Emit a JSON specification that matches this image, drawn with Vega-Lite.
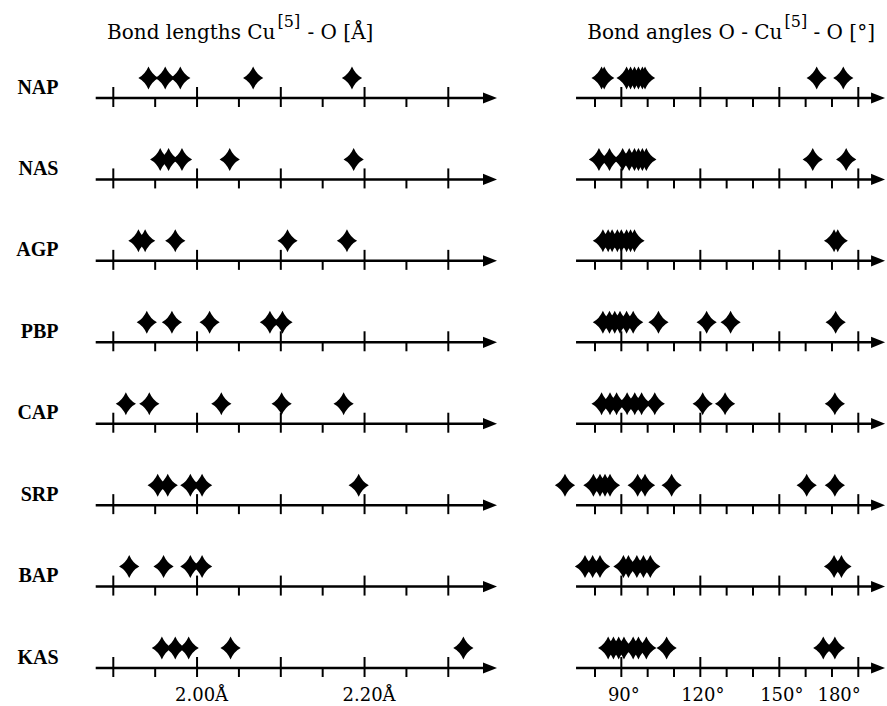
{
  "$schema": "https://vega.github.io/schema/vega-lite/v6.json",
  "width": 807,
  "height": 570,
  "autosize": {"type": "none"},
  "padding": {"left": 80, "top": 98, "right": 0, "bottom": 38},
  "background": "white",
  "config": {
    "view": {"stroke": null},
    "axis": {"grid": false, "domain": false, "ticks": false}
  },
  "datasets": {
    "rows": [
      {"row": "NAP", "lmaj": [1.9, 2.0, 2.1, 2.2, 2.3], "lmin": [1.95, 2.05, 2.15, 2.25], "rmaj": [90, 120, 150, 180], "rmin": [80, 100, 110, 130, 140, 160, 170]},
      {"row": "NAS", "lmaj": [1.9, 2.0, 2.1, 2.2, 2.3], "lmin": [1.95, 2.05, 2.15, 2.25], "rmaj": [90, 120, 150, 180], "rmin": [80, 100, 110, 130, 140, 160, 170]},
      {"row": "AGP", "lmaj": [1.9, 2.0, 2.1, 2.2, 2.3], "lmin": [1.95, 2.05, 2.15, 2.25], "rmaj": [90, 120, 150, 180], "rmin": [80, 100, 110, 130, 140, 160, 170]},
      {"row": "PBP", "lmaj": [1.9, 2.0, 2.1, 2.2, 2.3], "lmin": [1.95, 2.05, 2.15, 2.25], "rmaj": [90, 120, 150, 180], "rmin": [80, 100, 110, 130, 140, 160, 170]},
      {"row": "CAP", "lmaj": [1.9, 2.0, 2.1, 2.2, 2.3], "lmin": [1.95, 2.05, 2.15, 2.25], "rmaj": [90, 120, 150, 180], "rmin": [80, 100, 110, 130, 140, 160, 170]},
      {"row": "SRP", "lmaj": [1.9, 2.0, 2.1, 2.2, 2.3], "lmin": [1.95, 2.05, 2.15, 2.25], "rmaj": [90, 120, 150, 180], "rmin": [80, 100, 110, 130, 140, 160, 170]},
      {"row": "BAP", "lmaj": [1.9, 2.0, 2.1, 2.2, 2.3], "lmin": [1.95, 2.05, 2.15, 2.25], "rmaj": [90, 120, 150, 180], "rmin": [80, 100, 110, 130, 140, 160, 170]},
      {"row": "KAS", "lmaj": [1.9, 2.0, 2.1, 2.2, 2.3], "lmin": [1.95, 2.05, 2.15, 2.25], "rmaj": [90, 120, 150, 180], "rmin": [80, 100, 110, 130, 140, 160, 170]}
    ],
    "bonds": [
      {"row": "NAP", "length": 1.942}, {"row": "NAP", "length": 1.962}, {"row": "NAP", "length": 1.980}, {"row": "NAP", "length": 2.067}, {"row": "NAP", "length": 2.185},
      {"row": "NAS", "length": 1.956}, {"row": "NAS", "length": 1.966}, {"row": "NAS", "length": 1.982}, {"row": "NAS", "length": 2.039}, {"row": "NAS", "length": 2.187},
      {"row": "AGP", "length": 1.930}, {"row": "AGP", "length": 1.938}, {"row": "AGP", "length": 1.974}, {"row": "AGP", "length": 2.108}, {"row": "AGP", "length": 2.179},
      {"row": "PBP", "length": 1.940}, {"row": "PBP", "length": 1.970}, {"row": "PBP", "length": 2.015}, {"row": "PBP", "length": 2.087}, {"row": "PBP", "length": 2.102},
      {"row": "CAP", "length": 1.915}, {"row": "CAP", "length": 1.943}, {"row": "CAP", "length": 2.029}, {"row": "CAP", "length": 2.101}, {"row": "CAP", "length": 2.175},
      {"row": "SRP", "length": 1.953}, {"row": "SRP", "length": 1.965}, {"row": "SRP", "length": 1.992}, {"row": "SRP", "length": 2.006}, {"row": "SRP", "length": 2.193},
      {"row": "BAP", "length": 1.919}, {"row": "BAP", "length": 1.960}, {"row": "BAP", "length": 1.992}, {"row": "BAP", "length": 2.006},
      {"row": "KAS", "length": 1.958}, {"row": "KAS", "length": 1.974}, {"row": "KAS", "length": 1.990}, {"row": "KAS", "length": 2.040}, {"row": "KAS", "length": 2.318}
    ],
    "angles": [
      {"row": "NAP", "angle": 82.5}, {"row": "NAP", "angle": 83.5}, {"row": "NAP", "angle": 92}, {"row": "NAP", "angle": 93.5}, {"row": "NAP", "angle": 95}, {"row": "NAP", "angle": 96.5}, {"row": "NAP", "angle": 98}, {"row": "NAP", "angle": 99}, {"row": "NAP", "angle": 164.2}, {"row": "NAP", "angle": 174.3},
      {"row": "NAS", "angle": 81.5}, {"row": "NAS", "angle": 85.5}, {"row": "NAS", "angle": 90.5}, {"row": "NAS", "angle": 93}, {"row": "NAS", "angle": 95}, {"row": "NAS", "angle": 96.5}, {"row": "NAS", "angle": 98}, {"row": "NAS", "angle": 99.5}, {"row": "NAS", "angle": 162.7}, {"row": "NAS", "angle": 175.4},
      {"row": "AGP", "angle": 83}, {"row": "AGP", "angle": 85}, {"row": "AGP", "angle": 86.5}, {"row": "AGP", "angle": 88.5}, {"row": "AGP", "angle": 90}, {"row": "AGP", "angle": 92}, {"row": "AGP", "angle": 93.5}, {"row": "AGP", "angle": 95}, {"row": "AGP", "angle": 170.8}, {"row": "AGP", "angle": 172.2},
      {"row": "PBP", "angle": 83}, {"row": "PBP", "angle": 85.5}, {"row": "PBP", "angle": 87.5}, {"row": "PBP", "angle": 89.5}, {"row": "PBP", "angle": 92}, {"row": "PBP", "angle": 94.5}, {"row": "PBP", "angle": 104.1}, {"row": "PBP", "angle": 122.4}, {"row": "PBP", "angle": 131.5}, {"row": "PBP", "angle": 171.4},
      {"row": "CAP", "angle": 82.5}, {"row": "CAP", "angle": 85.7}, {"row": "CAP", "angle": 88.2}, {"row": "CAP", "angle": 92.2}, {"row": "CAP", "angle": 95.1}, {"row": "CAP", "angle": 97.7}, {"row": "CAP", "angle": 102.7}, {"row": "CAP", "angle": 120.9}, {"row": "CAP", "angle": 129.4}, {"row": "CAP", "angle": 171.1},
      {"row": "SRP", "angle": 68.6}, {"row": "SRP", "angle": 79.4}, {"row": "SRP", "angle": 81.9}, {"row": "SRP", "angle": 83.8}, {"row": "SRP", "angle": 85.7}, {"row": "SRP", "angle": 96.2}, {"row": "SRP", "angle": 99}, {"row": "SRP", "angle": 109.1}, {"row": "SRP", "angle": 160.4}, {"row": "SRP", "angle": 171.1},
      {"row": "BAP", "angle": 76.2}, {"row": "BAP", "angle": 79.1}, {"row": "BAP", "angle": 81.9}, {"row": "BAP", "angle": 90.8}, {"row": "BAP", "angle": 92.7}, {"row": "BAP", "angle": 95.9}, {"row": "BAP", "angle": 98.4}, {"row": "BAP", "angle": 101}, {"row": "BAP", "angle": 170.8}, {"row": "BAP", "angle": 173.6},
      {"row": "KAS", "angle": 85}, {"row": "KAS", "angle": 87}, {"row": "KAS", "angle": 89}, {"row": "KAS", "angle": 91}, {"row": "KAS", "angle": 94.5}, {"row": "KAS", "angle": 96.5}, {"row": "KAS", "angle": 99.5}, {"row": "KAS", "angle": 107.2}, {"row": "KAS", "angle": 166.7}, {"row": "KAS", "angle": 171.1}
    ]
  },
  "encoding": {
    "y": {
      "field": "row",
      "type": "nominal",
      "scale": {"type": "point", "domain": ["NAP", "NAS", "AGP", "PBP", "CAP", "SRP", "BAP", "KAS"], "padding": 0},
      "axis": {
        "title": null,
        "domain": false,
        "ticks": false,
        "labelFont": "Liberation Serif",
        "labelFontWeight": "bold",
        "labelFontSize": 20,
        "labelColor": "black",
        "labelPadding": 22,
        "labelOffset": -5,
        "labelBaseline": "alphabetic"
      }
    }
  },
  "resolve": {"scale": {"x": "independent"}, "axis": {"x": "independent"}},
  "layer": [
    {
      "data": {"name": "bonds"},
      "mark": {"type": "point", "shape": "M0,-1Q0.3,-0.3,0.88,0Q0.3,0.3,0,1Q-0.3,0.3,-0.88,0Q-0.3,-0.3,0,-1Z", "size": 529, "filled": true, "color": "black", "opacity": 1, "strokeWidth": 0, "yOffset": -20},
      "encoding": {
        "x": {
          "field": "length",
          "type": "quantitative",
          "scale": {"domain": [1.9, 2.3], "range": [33.3, 368.3], "nice": false, "zero": false},
          "axis": {
            "orient": "bottom", "values": [2.0, 2.2], "labelExpr": "format(datum.value, '.2f') + 'Å'",
            "labelFont": "DejaVu Serif", "labelFontSize": 18, "labelColor": "black", "labelPadding": 32, "labelBaseline": "alphabetic", "labelOffset": 4,
            "title": "Bond lengths Cu", "titleX": 195, "titleY": -630, "titleAlign": "right", "titleBaseline": "alphabetic", "titleAngle": 0,
            "titleFont": "DejaVu Serif", "titleFontSize": 20, "titleFontWeight": "normal", "titleColor": "black"
          }
        }
      }
    },
    {
      "data": {"name": "rows"},
      "layer": [
        {
          "mark": {"type": "rule", "strokeWidth": 2.5, "color": "black"},
          "encoding": {
            "x": {"datum": 1.879, "type": "quantitative", "scale": {"domain": [1.9, 2.3], "range": [33.3, 368.3], "nice": false, "zero": false},
              "axis": {"orient": "top", "labels": false, "title": "[5]", "titleX": 197, "titleY": -72, "titleAlign": "left", "titleBaseline": "alphabetic", "titleAngle": 0, "titleFont": "DejaVu Serif", "titleFontSize": 16, "titleFontWeight": "normal", "titleColor": "black"}},
            "x2": {"datum": 2.35}
          }
        },
        {
          "mark": {"type": "point", "shape": "M-1,-0.8L1,0L-1,0.8Z", "size": 196, "filled": true, "color": "black", "opacity": 1, "strokeWidth": 0},
          "encoding": {
            "x": {"datum": 2.3498, "type": "quantitative", "scale": {"domain": [1.9, 2.3], "range": [33.3, 368.3], "nice": false, "zero": false},
              "axis": {"orient": "top", "labels": false, "title": "[5]", "titleX": 197, "titleY": -72, "titleAlign": "left", "titleBaseline": "alphabetic", "titleAngle": 0, "titleFont": "DejaVu Serif", "titleFontSize": 16, "titleFontWeight": "normal", "titleColor": "black"}}
          }
        }
      ]
    },
    {
      "data": {"name": "rows"},
      "layer": [
        {
          "transform": [{"flatten": ["lmaj"], "as": ["v"]}],
          "mark": {"type": "tick", "size": 20, "thickness": 2, "color": "black", "opacity": 1, "yOffset": -1},
          "encoding": {
            "x": {"field": "v", "type": "quantitative", "scale": {"domain": [1.9, 2.3], "range": [33.3, 368.3], "nice": false, "zero": false},
              "axis": {"orient": "top", "labels": false, "title": "- O [Å]", "titleX": 227, "titleY": -60, "titleAlign": "left", "titleBaseline": "alphabetic", "titleAngle": 0, "titleFont": "DejaVu Serif", "titleFontSize": 20, "titleFontWeight": "normal", "titleColor": "black"}}
          }
        },
        {
          "transform": [{"flatten": ["lmin"], "as": ["v"]}],
          "mark": {"type": "tick", "size": 9, "thickness": 2, "color": "black", "opacity": 1, "yOffset": 4.5},
          "encoding": {
            "x": {"field": "v", "type": "quantitative", "scale": {"domain": [1.9, 2.3], "range": [33.3, 368.3], "nice": false, "zero": false},
              "axis": {"orient": "top", "labels": false, "title": "- O [Å]", "titleX": 227, "titleY": -60, "titleAlign": "left", "titleBaseline": "alphabetic", "titleAngle": 0, "titleFont": "DejaVu Serif", "titleFontSize": 20, "titleFontWeight": "normal", "titleColor": "black"}}
          }
        }
      ]
    },
    {
      "data": {"name": "angles"},
      "mark": {"type": "point", "shape": "M0,-1Q0.3,-0.3,0.88,0Q0.3,0.3,0,1Q-0.3,0.3,-0.88,0Q-0.3,-0.3,0,-1Z", "size": 529, "filled": true, "color": "black", "opacity": 1, "strokeWidth": 0, "yOffset": -20},
      "encoding": {
        "x": {
          "field": "angle",
          "type": "quantitative",
          "scale": {"domain": [80, 180], "range": [515, 778.3], "nice": false, "zero": false},
          "axis": {
            "orient": "bottom", "values": [90, 120, 150, 180], "labelExpr": "datum.value + '°'",
            "labelFont": "DejaVu Serif", "labelFontSize": 18, "labelColor": "black", "labelPadding": 32, "labelBaseline": "alphabetic", "labelOffset": 2,
            "title": "Bond angles O - Cu", "titleX": 702, "titleY": -630, "titleAlign": "right", "titleBaseline": "alphabetic", "titleAngle": 0,
            "titleFont": "DejaVu Serif", "titleFontSize": 20, "titleFontWeight": "normal", "titleColor": "black"
          }
        }
      }
    },
    {
      "data": {"name": "rows"},
      "layer": [
        {
          "mark": {"type": "rule", "strokeWidth": 2.5, "color": "black"},
          "encoding": {
            "x": {"datum": 72.8, "type": "quantitative", "scale": {"domain": [80, 180], "range": [515, 778.3], "nice": false, "zero": false},
              "axis": {"orient": "top", "labels": false, "title": "[5]", "titleX": 704, "titleY": -72, "titleAlign": "left", "titleBaseline": "alphabetic", "titleAngle": 0, "titleFont": "DejaVu Serif", "titleFontSize": 16, "titleFontWeight": "normal", "titleColor": "black"}},
            "x2": {"datum": 187.5}
          }
        },
        {
          "mark": {"type": "point", "shape": "M-1,-0.8L1,0L-1,0.8Z", "size": 196, "filled": true, "color": "black", "opacity": 1, "strokeWidth": 0},
          "encoding": {
            "x": {"datum": 187.5, "type": "quantitative", "scale": {"domain": [80, 180], "range": [515, 778.3], "nice": false, "zero": false},
              "axis": {"orient": "top", "labels": false, "title": "[5]", "titleX": 704, "titleY": -72, "titleAlign": "left", "titleBaseline": "alphabetic", "titleAngle": 0, "titleFont": "DejaVu Serif", "titleFontSize": 16, "titleFontWeight": "normal", "titleColor": "black"}}
          }
        }
      ]
    },
    {
      "data": {"name": "rows"},
      "layer": [
        {
          "transform": [{"flatten": ["rmaj"], "as": ["v"]}],
          "mark": {"type": "tick", "size": 20, "thickness": 2, "color": "black", "opacity": 1, "yOffset": -1},
          "encoding": {
            "x": {"field": "v", "type": "quantitative", "scale": {"domain": [80, 180], "range": [515, 778.3], "nice": false, "zero": false},
              "axis": {"orient": "top", "labels": false, "title": "- O [°]", "titleX": 733, "titleY": -60, "titleAlign": "left", "titleBaseline": "alphabetic", "titleAngle": 0, "titleFont": "DejaVu Serif", "titleFontSize": 20, "titleFontWeight": "normal", "titleColor": "black"}}
          }
        },
        {
          "transform": [{"flatten": ["rmin"], "as": ["v"]}],
          "mark": {"type": "tick", "size": 9, "thickness": 2, "color": "black", "opacity": 1, "yOffset": 4.5},
          "encoding": {
            "x": {"field": "v", "type": "quantitative", "scale": {"domain": [80, 180], "range": [515, 778.3], "nice": false, "zero": false},
              "axis": {"orient": "top", "labels": false, "title": "- O [°]", "titleX": 733, "titleY": -60, "titleAlign": "left", "titleBaseline": "alphabetic", "titleAngle": 0, "titleFont": "DejaVu Serif", "titleFontSize": 20, "titleFontWeight": "normal", "titleColor": "black"}}
          }
        }
      ]
    }
  ]
}
